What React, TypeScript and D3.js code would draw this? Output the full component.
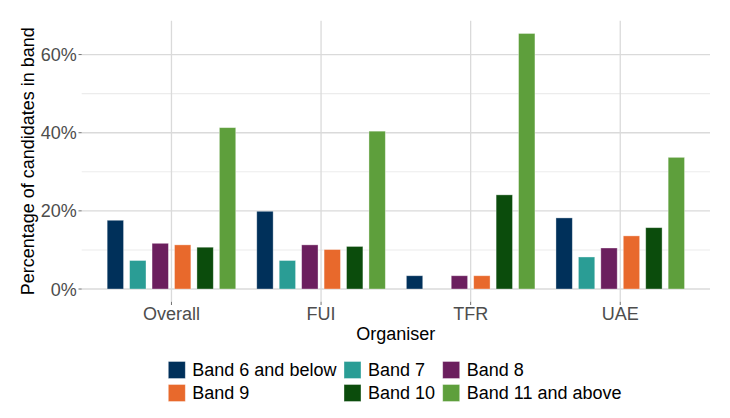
import React from "react";
import * as d3 from "d3";

const organisers = ["Overall", "FUI", "TFR", "UAE"];
const bands = ["Band 6 and below", "Band 7", "Band 8", "Band 9", "Band 10", "Band 11 and above"];
const bandColors = ["#00305A", "#2A9D95", "#6B1F5E", "#E8692C", "#0B4C0C", "#5E9F3C"];

// percentage of candidates in each band, per organiser (order follows `bands`)
const overallValues = [17.6, 7.3, 11.7, 11.3, 10.7, 41.3];
const fuiValues = [19.9, 7.3, 11.3, 10.1, 10.9, 40.4];
const tfrValues = [3.4, 0, 3.4, 3.4, 24.1, 65.4];
const uaeValues = [18.2, 8.2, 10.5, 13.6, 15.7, 33.7];

const yMajorTicks = [0, 20, 40, 60];
const yMinorTicks = [10, 30, 50];

const W = 730;
const H = 418;
const FONT = "'Liberation Sans', Arial, sans-serif";

export default function App() {
  const valuesBy: Record<string, number[]> = {
    Overall: overallValues,
    FUI: fuiValues,
    TFR: tfrValues,
    UAE: uaeValues,
  };
  const rows = organisers.flatMap((o) =>
    bands.map((b, i) => ({ organiser: o, band: b, value: valuesBy[o][i] }))
  );

  const panel = { left: 81.7, right: 710, top: 20.7, bottom: 301.8 };

  const x = d3
    .scaleBand<string>()
    .domain(organisers)
    .range([panel.left, panel.right])
    .paddingInner(0)
    .paddingOuter(0.1);

  const groupW = x.step() * 0.9;
  const xInner = d3
    .scaleBand<string>()
    .domain(bands)
    .range([-groupW / 2, groupW / 2])
    .paddingInner(0.27)
    .paddingOuter(0.135);

  const maxV = d3.max(rows, (d) => d.value) as number;
  const y = d3
    .scaleLinear()
    .domain([0 - maxV * 0.05, maxV * 1.05])
    .range([panel.bottom, panel.top]);

  const color = d3.scaleOrdinal<string, string>().domain(bands).range(bandColors);

  const cx = (o: string) => (x(o) as number) + x.bandwidth() / 2;

  // legend layout (3 columns, filled by row)
  const legendColX = [168.3, 344, 442.7];
  const legendRowY = [361.5, 384.5];
  const keySize = 17;

  return (
    <div style={{ position: "fixed", left: 0, top: 0 }}>
      <svg width={W} height={H} style={{ display: "block", background: "#fff" }} fontFamily={FONT}>
        {/* minor grid */}
        {yMinorTicks.map((t) => (
          <line key={"mi" + t} x1={panel.left} x2={panel.right} y1={y(t)} y2={y(t)} stroke="#ececec" strokeWidth={1.1} />
        ))}
        {/* major grid */}
        {yMajorTicks.map((t) => (
          <line key={"ma" + t} x1={panel.left} x2={panel.right} y1={y(t)} y2={y(t)} stroke="#dadada" strokeWidth={1.3} />
        ))}
        {organisers.map((o) => (
          <line key={"vg" + o} x1={cx(o)} x2={cx(o)} y1={panel.top} y2={panel.bottom} stroke="#dadada" strokeWidth={1.3} />
        ))}

        {/* bars */}
        {rows.map((d) => {
          const x0 = cx(d.organiser) + (xInner(d.band) as number);
          const y0 = y(d.value);
          const y1 = y(0);
          return (
            <rect
              key={d.organiser + d.band}
              x={x0}
              y={Math.min(y0, y1)}
              width={xInner.bandwidth()}
              height={Math.abs(y1 - y0)}
              fill={color(d.band)}
              stroke={d.value > 0 ? "rgba(255,255,255,0.45)" : "none"}
              strokeWidth={0.8}
            />
          );
        })}

        {/* y axis ticks & labels */}
        {yMajorTicks.map((t) => (
          <g key={"yt" + t}>
            <line x1={panel.left - 3.2} x2={panel.left} y1={y(t)} y2={y(t)} stroke="#4d4d4d" strokeWidth={0.8} />
            <text x={panel.left - 5} y={y(t)} dy="0.36em" textAnchor="end" fontSize={18} fill="#4d4d4d">
              {t + "%"}
            </text>
          </g>
        ))}

        {/* x axis ticks & labels */}
        {organisers.map((o) => (
          <g key={"xt" + o}>
            <line x1={cx(o)} x2={cx(o)} y1={panel.bottom} y2={panel.bottom + 3.2} stroke="#4d4d4d" strokeWidth={0.8} />
            <text x={cx(o)} y={319.5} textAnchor="middle" fontSize={18} fill="#4d4d4d">
              {o}
            </text>
          </g>
        ))}

        {/* axis titles */}
        <text x={(panel.left + panel.right) / 2} y={339.5} textAnchor="middle" fontSize={18} fill="#000">
          Organiser
        </text>
        <text
          transform={`translate(33.5, ${(panel.top + panel.bottom) / 2}) rotate(-90)`}
          textAnchor="middle"
          fontSize={18}
          fill="#000"
        >
          Percentage of candidates in band
        </text>

        {/* legend */}
        {bands.map((b, i) => {
          const col = i % 3;
          const row = Math.floor(i / 3);
          const kx = legendColX[col];
          const ky = legendRowY[row];
          return (
            <g key={"lg" + b}>
              <rect x={kx} y={ky} width={keySize} height={keySize} fill={color(b)} stroke="rgba(255,255,255,0.45)" strokeWidth={0.8} />
              <text x={kx + keySize + 7} y={ky + 14.3} fontSize={18} fill="#000">
                {b}
              </text>
            </g>
          );
        })}
      </svg>
    </div>
  );
}
